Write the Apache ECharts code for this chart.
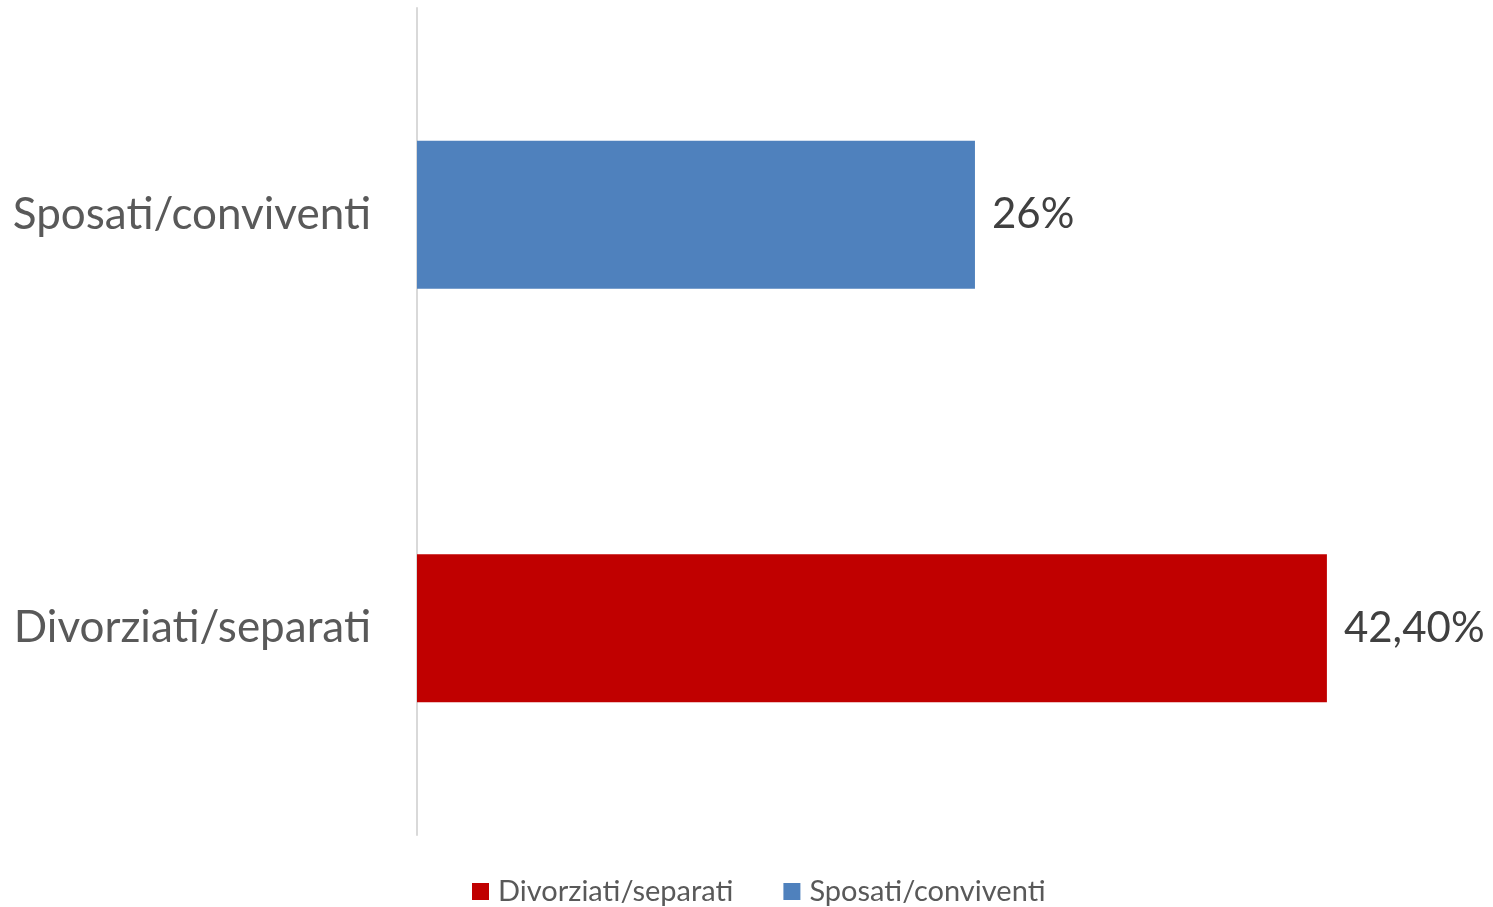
<!DOCTYPE html>
<html>
<head>
<meta charset="utf-8">
<script src="https://cdn.jsdelivr.net/npm/echarts@6/dist/echarts.min.js"></script>
<style>
html,body{margin:0;padding:0;background:#fff;}
#chart{width:1493px;height:907px;}
</style>
</head>
<body>
<div id="chart"></div>
<script>
const categories = ['Divorziati/separati', 'Sposati/conviventi'];
const seriesNames = ['Divorziati/separati', 'Sposati/conviventi'];
const divorziatiValues = [42.4, null];
const sposatiValues = [null, 26];
const valueLabels = { 'Divorziati/separati': '42,40%', 'Sposati/conviventi': '26%' };

const FONT = 'Lato';
const chart = echarts.init(document.getElementById('chart'));
const labelCfg = (name) => ({
  show: true,
  position: 'right',
  distance: 17,
  formatter: () => valueLabels[name],
  fontFamily: FONT,
  fontSize: 42,
  color: '#404040'
});
chart.setOption({
  animation: false,
  backgroundColor: '#ffffff',
  grid: { left: 417, right: 3, top: 8, bottom: 72, containLabel: false },
  xAxis: {
    type: 'value', min: 0, max: 50,
    show: false
  },
  yAxis: {
    type: 'category',
    data: categories,
    axisLine: { show: true, lineStyle: { color: '#d9d9d9', width: 2 } },
    axisTick: { show: false },
    axisLabel: { fontFamily: FONT, fontSize: 44, color: '#595959', margin: 46 }
  },
  legend: {
    top: 877,
    left: 472,
    padding: 0,
    icon: 'rect',
    itemWidth: 17,
    itemHeight: 17,
    itemGap: 50,
    textStyle: { fontFamily: FONT, fontSize: 29, color: '#595959', padding: [0, 0, 0, 4] },
    data: seriesNames
  },
  series: [
    {
      name: seriesNames[0], type: 'bar', data: divorziatiValues,
      barWidth: 148, barGap: '-100%',
      itemStyle: { color: '#c00000' },
      label: labelCfg(seriesNames[0])
    },
    {
      name: seriesNames[1], type: 'bar', data: sposatiValues,
      barWidth: 148, barGap: '-100%',
      itemStyle: { color: '#4f81bd' },
      label: labelCfg(seriesNames[1])
    }
  ]
});
</script>
</body>
</html>
